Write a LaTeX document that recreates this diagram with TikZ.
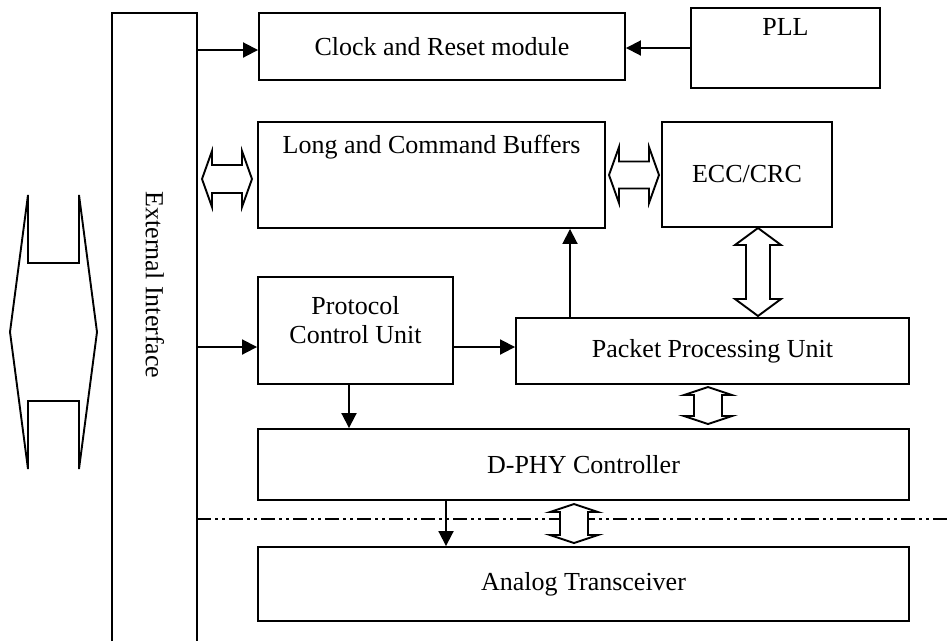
\documentclass[tikz,border=0pt]{standalone}
\usepackage{fontspec}
\setmainfont{Liberation Serif}
\usetikzlibrary{arrows.meta}
\newcommand{\hdouble}[6]{% L, R, cy, hl, hw, sw
  \filldraw[dbl] (#1,#3) -- ({#1+#4},{#3-#5}) -- ({#1+#4},{#3-#6}) -- ({#2-#4},{#3-#6}) -- ({#2-#4},{#3-#5}) -- (#2,#3) -- ({#2-#4},{#3+#5}) -- ({#2-#4},{#3+#6}) -- ({#1+#4},{#3+#6}) -- ({#1+#4},{#3+#5}) -- cycle;}
\newcommand{\vdouble}[6]{% T, B, cx, hl, hw, sw
  \filldraw[dbl] (#3,#1) -- ({#3-#5},{#1+#4}) -- ({#3-#6},{#1+#4}) -- ({#3-#6},{#2-#4}) -- ({#3-#5},{#2-#4}) -- (#3,#2) -- ({#3+#5},{#2-#4}) -- ({#3+#6},{#2-#4}) -- ({#3+#6},{#1+#4}) -- ({#3+#5},{#1+#4}) -- cycle;}
\begin{document}
\begin{tikzpicture}[x=1pt,y=-1pt,
  box/.style={draw,line width=1.9pt,inner sep=0pt,font=\fontsize{26}{30}\selectfont},
  lbl/.style={inner sep=0pt,font=\fontsize{26}{30}\selectfont,align=center},
  arr/.style={line width=1.9pt,-{Triangle[length=15pt,width=15pt]}},
  dbl/.style={line width=1.9pt,fill=white,line join=miter}]
\useasboundingbox (0,0) rectangle (947,641);
% external interface
\draw[line width=1.9pt] (112,641) -- (112,13) -- (197,13) -- (197,641);
\node[lbl,rotate=-90] (extlbl) at (155,285) {External Interface};
\coordinate (ext1) at (197,50);
\coordinate (ext2) at (197,347);
% boxes
\node[box,minimum width=366pt,minimum height=67pt] (clk) at (442,46.5) {Clock and Reset module};
\node[box,minimum width=189pt,minimum height=80pt] (pll) at (785.5,48) {};
\node[lbl] (plltxt) at (785.5,27) {PLL};
\node[box,minimum width=347pt,minimum height=106pt] (buf) at (431.5,175) {};
\node[lbl] (buftxt) at (431.5,147) {Long and Command Buffers};
\node[box,minimum width=170pt,minimum height=105pt] (ecc) at (747,174.5) {ECC/CRC};
\node[box,minimum width=195pt,minimum height=107pt] (pcu) at (355.5,330.5) {};
\node[lbl] (pcutxt) at (355.5,320) {Protocol\\[-1pt]Control Unit};
\node[box,minimum width=393pt,minimum height=66pt] (ppu) at (712.5,351) {Packet Processing Unit};
\node[box,minimum width=651pt,minimum height=71pt] (dphy) at (583.5,464.5) {D-PHY Controller};
\node[box,minimum width=651pt,minimum height=74pt] (ana) at (583.5,584) {Analog Transceiver};
% arrows
\draw[arr] (ext1) -- (ext1 -| clk.west);
\draw[arr] (pll.west) -- (pll.west -| clk.east);
\draw[arr] (ext2) -- (ext2 -| pcu.west);
\coordinate (c1) at (453,347);
\draw[arr] (c1) -- (c1 -| ppu.west);
\coordinate (x570) at (570,0);
\draw[arr] (ppu.north -| x570) -- (buf.south -| x570);
\coordinate (x349) at (349,0);
\draw[arr] (pcu.south -| x349) -- (dphy.north -| x349);
% dash-dot line
\coordinate (dl) at (197,519);
\coordinate (dr) at (947,519);
\draw[line width=1.2pt,dash pattern=on 14pt off 4pt on 3pt off 4pt on 3pt off 4pt] (dl) -- (dr);
\coordinate (x446) at (446,0);
\draw[arr] (dphy.south -| x446) -- (ana.north -| x446);
% double arrows
\hdouble{10}{97}{332}{18}{137}{69}
\hdouble{202}{252}{179}{10}{28}{14}
\hdouble{609}{659}{175}{10}{28}{13.5}
\vdouble{228}{316}{758}{17}{23}{12}
\vdouble{387}{424}{708}{8}{24}{14}
\vdouble{504}{543}{574}{8}{24}{14}
\end{tikzpicture}
\end{document}
